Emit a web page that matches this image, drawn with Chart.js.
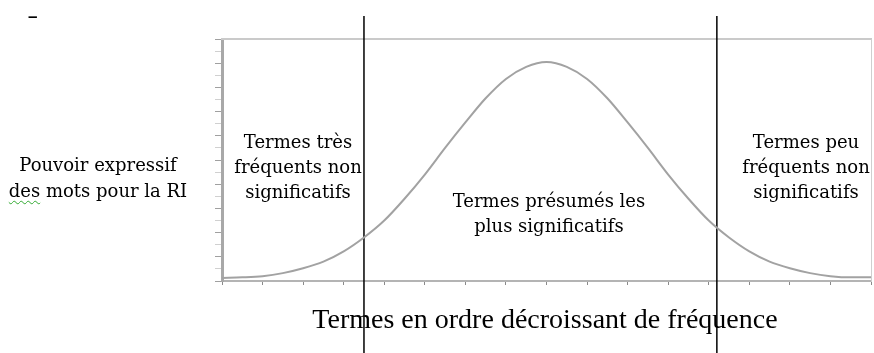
<!DOCTYPE html>
<html>
<head>
<meta charset="utf-8">
<script src="https://cdn.jsdelivr.net/npm/chart.js@4"></script>
<style>
  body { margin: 0; background: #fff; }
  #wrap { position: relative; width: 874px; height: 353px; overflow: hidden; }
  .lbl { position: absolute; font-family: "DejaVu Serif", serif; font-size: 18px; line-height: 25px;
         text-align: center; white-space: nowrap; transform: translateX(-50%); color: #000; }
  .sq { text-decoration: underline wavy #3a3; text-decoration-thickness: 1px; text-underline-offset: 3px; }
  #xtitle { position: absolute; font-family: "Liberation Serif", serif; font-size: 28px; line-height: 28px;
            white-space: nowrap; transform: translateX(-50%); }
  #dash { position: absolute; left: 28px; top: 7px; font-family: "Liberation Sans", sans-serif;
          font-size: 17px; line-height: 20px; font-weight: bold; }
</style>
</head>
<body>
<div id="wrap">
  <canvas id="chart" width="874" height="353"></canvas>
  <div id="dash">–</div>
  <div class="lbl" style="left:98px; top:152px; line-height:26px;">Pouvoir expressif<br><span class="sq">des</span> mots pour la RI</div>
  <div class="lbl" style="left:298px; top:129px;">Termes très<br>fréquents non<br>significatifs</div>
  <div class="lbl" style="left:549px; top:188px;">Termes présumés les<br>plus significatifs</div>
  <div class="lbl" style="left:806px; top:129px;">Termes peu<br>fréquents non<br>significatifs</div>
  <div id="xtitle" style="left:545px; top:305px;">Termes en ordre décroissant de fréquence</div>
</div>
<script>
// curve, x in axis units (0..16), y in axis units (0..20)
const curveX = [0, 0.5, 1, 1.5, 2, 2.5, 3, 3.5, 4, 4.5, 5, 5.5, 6, 6.5, 7, 7.5, 8,
                8.5, 9, 9.5, 10, 10.5, 11, 11.5, 12, 12.5, 13, 13.5, 14, 14.5, 15, 15.5, 16];
const curveY = [0.25, 0.3, 0.4, 0.65, 1.05, 1.6, 2.45, 3.6, 5.0, 6.8, 8.8, 11.0, 13.1, 15.1, 16.7, 17.7, 18.1,
                17.7, 16.7, 15.1, 13.1, 11.0, 8.8, 6.8, 5.0, 3.6, 2.45, 1.6, 1.05, 0.65, 0.4, 0.3, 0.3];

// the two black separators
const separatorX = [3.5, 12.2];
const separatorSpan = [-6.2, 21.9];

const xMax = 16;
const yMax = 20;

function separatorDataset(x) {
    return {
        data: separatorSpan.map(y => ({ x: x, y: y })),
        borderColor: '#000',
        borderWidth: 1.5,
        pointRadius: 0,
        clip: false
    };
}

const ctx = document.getElementById('chart').getContext('2d');
new Chart(ctx, {
    type: 'line',
    data: {
        datasets: [
            {
                data: curveX.map((x, i) => ({ x: x, y: curveY[i] })),
                borderColor: '#a2a2a2',
                borderWidth: 2,
                pointRadius: 0,
                cubicInterpolationMode: 'monotone'
            },
            ...separatorX.map(separatorDataset)
        ]
    },
    options: {
        responsive: false,
        animation: false,
        layout: { padding: { top: 39, right: 3, left: 0, bottom: 0 } },
        plugins: { legend: { display: false }, tooltip: { enabled: false } },
        scales: {
            x: {
                type: 'linear', position: 'bottom', min: 0, max: xMax,
                ticks: { stepSize: 1, display: false },
                grid: { drawOnChartArea: false, tickLength: 4, color: '#8a8a8a' },
                border: { color: '#b4b4b4', width: 2 },
                afterFit: s => { s.height = 72; }
            },
            y: {
                type: 'linear', position: 'left', min: 0, max: yMax,
                ticks: { stepSize: 1, display: false },
                grid: {
                    drawOnChartArea: false, tickLength: 7,
                    color: c => (c.index % 2 === 0 ? '#a0a0a0' : '#d0d0d0')
                },
                border: { color: '#a8a8a8', width: 3 },
                afterFit: s => { s.width = 222; }
            },
            xTop: {
                type: 'linear', position: 'top', min: 0, max: xMax,
                ticks: { display: false },
                grid: { drawOnChartArea: false, drawTicks: false },
                border: { color: '#cacaca', width: 2 },
                afterFit: s => { s.height = 0; }
            },
            yRight: {
                type: 'linear', position: 'right', min: 0, max: yMax,
                ticks: { display: false },
                grid: { drawOnChartArea: false, drawTicks: false },
                border: { color: '#cfcfcf', width: 1 },
                afterFit: s => { s.width = 0; }
            }
        }
    }
});
</script>
</body>
</html>
